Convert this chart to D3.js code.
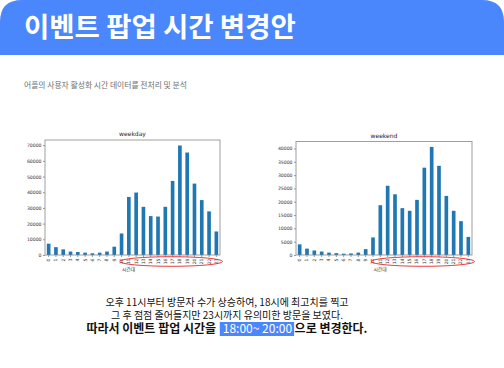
<!DOCTYPE html>
<html>
<head>
<meta charset="utf-8">
<script src="https://cdn.jsdelivr.net/npm/d3@7"></script>
<style>
    body { margin: 0; background: #fff; }
    svg { display: block; }
</style>
</head>
<body>
<div id="visualization"></div>
<script>
var hours = d3.range(24).map(String);

var weekday = [7200, 5000, 3600, 2200, 1900, 1500, 1100, 1500, 2200, 5300, 13700, 37000,
    39800, 30700, 24800, 24500, 30700, 47200, 69800, 65300, 45500, 35000, 27800, 15000];

var weekend = [4000, 2400, 1700, 1300, 900, 700, 500, 600, 900, 2200, 6600, 18700,
    26000, 22800, 17600, 16600, 20700, 32800, 40600, 33500, 22200, 16600, 12700, 6800];

var weekdayTicks = d3.range(0, 70001, 10000);
var weekendTicks = d3.range(0, 40001, 5000);

var titleText = '이벤트 팝업 시간 변경안';
var subText = '어플의 사용자 활성화 시간 데이터를 전처리 및 분석';
var lines = ['오후 11시부터 방문자 수가 상승하여, 18시에 최고치를 찍고',
    '그 후 점점 줄어들지만 23시까지 유의미한 방문을 보였다.'];
var lastLine = ['따라서 이벤트 팝업 시간을 ', '18:00~ 20:00', '으로 변경한다.'];

var W = 504, H = 368;
var kr = '"Noto Sans CJK KR", "Noto Sans", sans-serif';
var blue = '#4a86fc';

var svg = d3.select('#visualization')
    .append('svg')
    .attr('width', W)
    .attr('height', H);

// header band, rounded top corners
svg.append('path')
    .attr('d', 'M0,55 L0,22 Q0,0 22,0 L482,0 Q504,0 504,22 L504,55 Z')
    .attr('fill', blue);

svg.append('text')
    .attr('x', 24)
    .attr('y', 37)
    .attr('fill', '#fff')
    .style('font-family', kr)
    .style('font-weight', 700)
    .style('font-size', '27.5px')
    .text(titleText);

svg.append('text')
    .attr('x', 24)
    .attr('y', 88)
    .attr('fill', '#6f6f6f')
    .style('font-family', kr)
    .style('font-size', '7.8px')
    .text(subText);

function drawChart(values, ticks, box, title) {
    var x = d3.scaleBand()
        .domain(hours)
        .range([box.left, box.right])
        .paddingInner(0.5)
        .paddingOuter(0.25);

    var y = d3.scaleLinear()
        .domain([0, d3.max(values) * 1.05])
        .range([box.bottom, box.top]);

    var g = svg.append('g');

    g.selectAll('rect.bar')
        .data(values)
        .enter()
        .append('rect')
        .attr('class', 'bar')
        .attr('x', function(d, i) { return x(hours[i]); })
        .attr('y', function(d) { return y(d); })
        .attr('width', x.bandwidth())
        .attr('height', function(d) { return y(0) - y(d); })
        .attr('fill', '#1f77b4');

    var yAxis = g.append('g')
        .attr('transform', 'translate(' + box.left + ',0)')
        .call(d3.axisLeft(y).tickValues(ticks).tickSize(2).tickPadding(1.5).tickFormat(d3.format('d')));

    var xAxis = g.append('g')
        .attr('transform', 'translate(0,' + box.bottom + ')')
        .call(d3.axisBottom(x).tickSize(2).tickPadding(1));

    xAxis.selectAll('text')
        .attr('transform', 'rotate(-90)')
        .attr('x', -3.5)
        .attr('y', 0)
        .attr('dy', '0.32em')
        .style('text-anchor', 'end');

    [xAxis, yAxis].forEach(function(a) {
        a.select('.domain').remove();
        a.selectAll('line').attr('stroke', '#555').attr('stroke-width', 0.6);
        a.selectAll('text')
            .attr('fill', '#333')
            .style('font-family', 'DejaVu Sans, sans-serif')
            .style('font-size', '4.6px');
    });

    g.append('rect')
        .attr('x', box.left)
        .attr('y', box.top)
        .attr('width', box.right - box.left)
        .attr('height', box.bottom - box.top)
        .attr('fill', 'none')
        .attr('stroke', '#888')
        .attr('stroke-width', 0.8);

    g.append('text')
        .attr('x', (box.left + box.right) / 2)
        .attr('y', box.top - 4)
        .attr('text-anchor', 'middle')
        .attr('fill', '#222')
        .style('font-family', 'DejaVu Sans, sans-serif')
        .style('font-size', '6px')
        .text(title);

    g.append('text')
        .attr('x', (box.left + box.right) / 2 - 4)
        .attr('y', box.bottom + 16)
        .attr('text-anchor', 'middle')
        .attr('fill', '#333')
        .style('font-family', kr)
        .style('font-size', '4.8px')
        .text('시간대');

    // red ellipse around hours 11-23
    var x0 = x('11') - x.step(),
        x1 = x('23') + x.bandwidth() + x.step() * 0.6;
    g.append('ellipse')
        .attr('cx', (x0 + x1) / 2)
        .attr('cy', box.bottom + 6.5)
        .attr('rx', (x1 - x0) / 2)
        .attr('ry', 4.8)
        .attr('fill', 'none')
        .attr('stroke', '#e8262a')
        .attr('stroke-width', 0.9);
}

drawChart(weekday, weekdayTicks, {left: 45, right: 220, top: 140, bottom: 255}, 'weekday');
drawChart(weekend, weekendTicks, {left: 296, right: 472, top: 141.5, bottom: 255}, 'weekend');

// bottom text
var cx = 227;
svg.selectAll('text.note')
    .data(lines)
    .enter()
    .append('text')
    .attr('class', 'note')
    .attr('x', cx)
    .attr('y', function(d, i) { return 305.5 + i * 13.3; })
    .attr('text-anchor', 'middle')
    .attr('fill', '#111')
    .style('font-family', kr)
    .style('font-size', '10px')
    .text(function(d) { return d; });

var last = svg.append('text')
    .attr('y', 333.2)
    .attr('fill', '#111')
    .style('font-family', kr)
    .style('font-size', '12px')
    .style('font-weight', 700);

last.append('tspan').text(lastLine[0]);
last.append('tspan')
    .attr('dx', 4)
    .attr('fill', '#fff')
    .style('font-weight', 400)
    .text(lastLine[1]);
last.append('tspan').attr('dx', 2.5).text(lastLine[2]);

var tw = last.node().getBBox().width;
last.attr('x', cx - tw / 2);

// highlight box behind the time span
var n0 = last.node();
var start = n0.getStartPositionOfChar(lastLine[0].length);
var end = n0.getEndPositionOfChar(lastLine[0].length + lastLine[1].length - 1);
svg.insert('rect', function() { return n0; })
    .attr('x', start.x - 3)
    .attr('y', 322)
    .attr('width', end.x - start.x + 5)
    .attr('height', 14)
    .attr('fill', blue);
</script>
</body>
</html>
